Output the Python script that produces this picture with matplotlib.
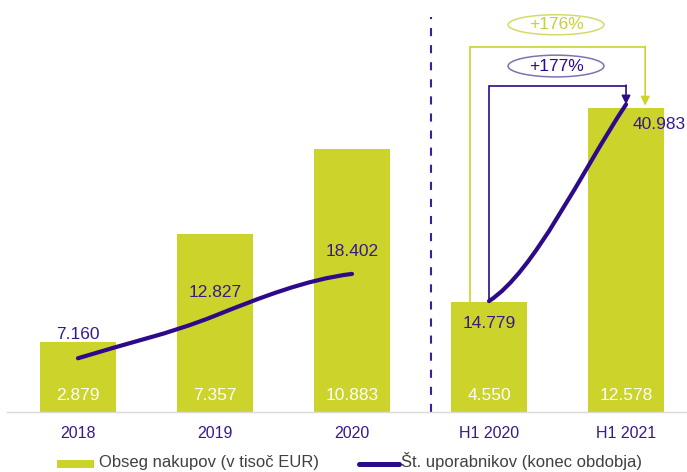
import numpy as np
import matplotlib
matplotlib.use("Agg")
import matplotlib.pyplot as plt
from matplotlib.path import Path
from matplotlib.patches import PathPatch, Ellipse
from matplotlib.lines import Line2D

plt.rcParams['font.family'] = ['Liberation Sans', 'DejaVu Sans']

# ---- data ----
categories = ['2018', '2019', '2020', 'H1 2020', 'H1 2021']
purchases = [2.879, 7.357, 10.883, 4.550, 12.578]        # Obseg nakupov (v tisoč EUR)
users = [7.160, 12.827, 18.402, 14.779, 40.983]          # Št. uporabnikov (konec obdobja)
purchase_labels = ['2.879', '7.357', '10.883', '4.550', '12.578']
user_labels = ['7.160', '12.827', '18.402', '14.779', '40.983']
growth_purchases = '+176%'
growth_users = '+177%'
legend_labels = ['Obseg nakupov (v tisoč EUR)', 'Št. uporabnikov (konec obdobja)']

BAR = '#CCD32A'
LINE = '#2C0A8A'
TXT = '#36198C'
ELL_Y = '#D6DA6A'
ELL_P = '#7E72B4'
FS = 12.5

W, H = 687, 472
fig = plt.figure(figsize=(W / 100, H / 100), dpi=100)
ax = fig.add_axes([7 / W, 60 / H, 680 / W, 412 / H])
x = np.arange(len(categories))
ax.bar(x, purchases, width=76 / 137, color=BAR, zorder=2)
ax.set_xlim(-0.518, 4.445)
ax.set_ylim(0, 17.02)
for s in ['top', 'left', 'right']:
    ax.spines[s].set_visible(False)
ax.spines['bottom'].set_color('#D9D9D9')
ax.spines['bottom'].set_linewidth(1)
ax.set_yticks([])
ax.set_xticks(x, categories, color=TXT, fontsize=11.5)
ax.tick_params(axis='x', length=0, pad=10)

# bar value labels
for xi, lab in zip(x, purchase_labels):
    ax.annotate(lab, xy=(xi, 0), xytext=(0, 12), textcoords='offset points',
                ha='center', va='center', color='white', fontsize=FS, zorder=3)

# divider
ax.axvline(2.58, ymin=0, ymax=0.959, color='#3F1CA0', lw=1.5,
           linestyle=(0, (3.9, 4.3)), zorder=1)

ax2 = ax.twinx()
ax2.set_ylim(0, 54.9)
for s in ax2.spines.values():
    s.set_visible(False)
ax2.set_yticks([])

# smoothed line, segment 1 (annual) - Bezier through data points
P = np.array([[x[i], users[i]] for i in range(3)], dtype=float)
T0 = P[1] - P[0]
T1 = (P[2] - P[0]) / 2 * np.array([1, 1.3])
T2 = (P[2] - P[1]) * np.array([1, 0.4])
verts = [P[0], P[0] + T0 / 3, P[1] - T1 / 3, P[1],
         P[1] + T1 / 3, P[2] - T2 / 3, P[2]]
codes = [Path.MOVETO] + [Path.CURVE4] * 6
ax2.add_patch(PathPatch(Path(verts, codes), fill=False, edgecolor=LINE, lw=3,
                        capstyle='round', zorder=4))

# segment 2 (half-year)
A = np.array([x[3], users[3]], dtype=float)
B = np.array([x[4], users[4]], dtype=float)
d = B - A
verts2 = [A, A + d * np.array([1 / 3, 0.15]), B - d * np.array([1 / 3, 0.35]), B]
codes2 = [Path.MOVETO] + [Path.CURVE4] * 3
ax2.add_patch(PathPatch(Path(verts2, codes2), fill=False, edgecolor=LINE, lw=3,
                        capstyle='round', zorder=4))

# line value labels
offs = [(0, 17, 'center'), (0, 16.5, 'center'), (0, 16, 'center'),
        (0, -16, 'center'), (5, -14.5, 'left')]
for xi, v, lab, (dx, dy, ha) in zip(x, users, user_labels, offs):
    ax2.annotate(lab, xy=(xi, v), xytext=(dx, dy), textcoords='offset points',
                 ha=ha, va='center', color=TXT, fontsize=FS, zorder=5)

# growth bracket - purchases (yellow), in bar coordinates
ytop_b = 15.08
xl_b, xr_b = 2.86, 4.14
ax2.plot([xl_b, xl_b, xr_b], [purchases[3], ytop_b, ytop_b], color=BAR, lw=1.2,
         transform=ax.transData, zorder=3, solid_joinstyle='miter')
ax2.annotate('', xy=(xr_b, purchases[4] + 0.08), xytext=(xr_b, ytop_b + 0.02),
             xycoords=ax.transData, textcoords=ax.transData,
             arrowprops=dict(arrowstyle='-|>', color=BAR, lw=1.2, mutation_scale=13,
                             shrinkA=0, shrinkB=0), zorder=3)

# growth bracket - users (purple), in line coordinates
ytop_u = 43.5
ax2.plot([x[3], x[3], x[4]], [users[3], ytop_u, ytop_u], color=LINE, lw=1.2,
         zorder=3, solid_joinstyle='miter')
ax2.annotate('', xy=(x[4], users[4]), xytext=(x[4], ytop_u + 0.05),
             arrowprops=dict(arrowstyle='-|>', color=LINE, lw=1.2, mutation_scale=13,
                             shrinkA=0, shrinkB=0), zorder=3)

# ellipses with growth labels
ex = 3.489
ax2.add_patch(Ellipse((ex, 51.6), 0.70, 2.67, facecolor='white', edgecolor=ELL_Y, lw=1.1, zorder=5))
ax2.text(ex, 51.6, growth_purchases, ha='center', va='center', color='#C8CE3E', fontsize=FS, zorder=6)
ax2.add_patch(Ellipse((ex, 46.1), 0.70, 2.9, facecolor='white', edgecolor=ELL_P, lw=1.1, zorder=5))
ax2.text(ex, 46.1, growth_users, ha='center', va='center', color=LINE, fontsize=FS, zorder=6)

# legend (drawn manually in figure pixels)
def fx(px):
    return px / W

def fy(py):
    return 1 - py / H

ly = 464
base = 467.5
fig.add_artist(Line2D([fx(57), fx(94)], [fy(ly), fy(ly)], color=BAR, lw=5.8,
                      solid_capstyle='butt', transform=fig.transFigure))
fig.text(fx(99), fy(base), legend_labels[0], ha='left', va='baseline', fontsize=12,
         color='#404040')
fig.add_artist(Line2D([fx(359), fx(399)], [fy(ly), fy(ly)], color=LINE, lw=3.6,
                      solid_capstyle='round', transform=fig.transFigure))
fig.text(fx(401), fy(base), legend_labels[1], ha='left', va='baseline', fontsize=12,
         color='#404040')

fig.savefig('out.png', dpi=100)
